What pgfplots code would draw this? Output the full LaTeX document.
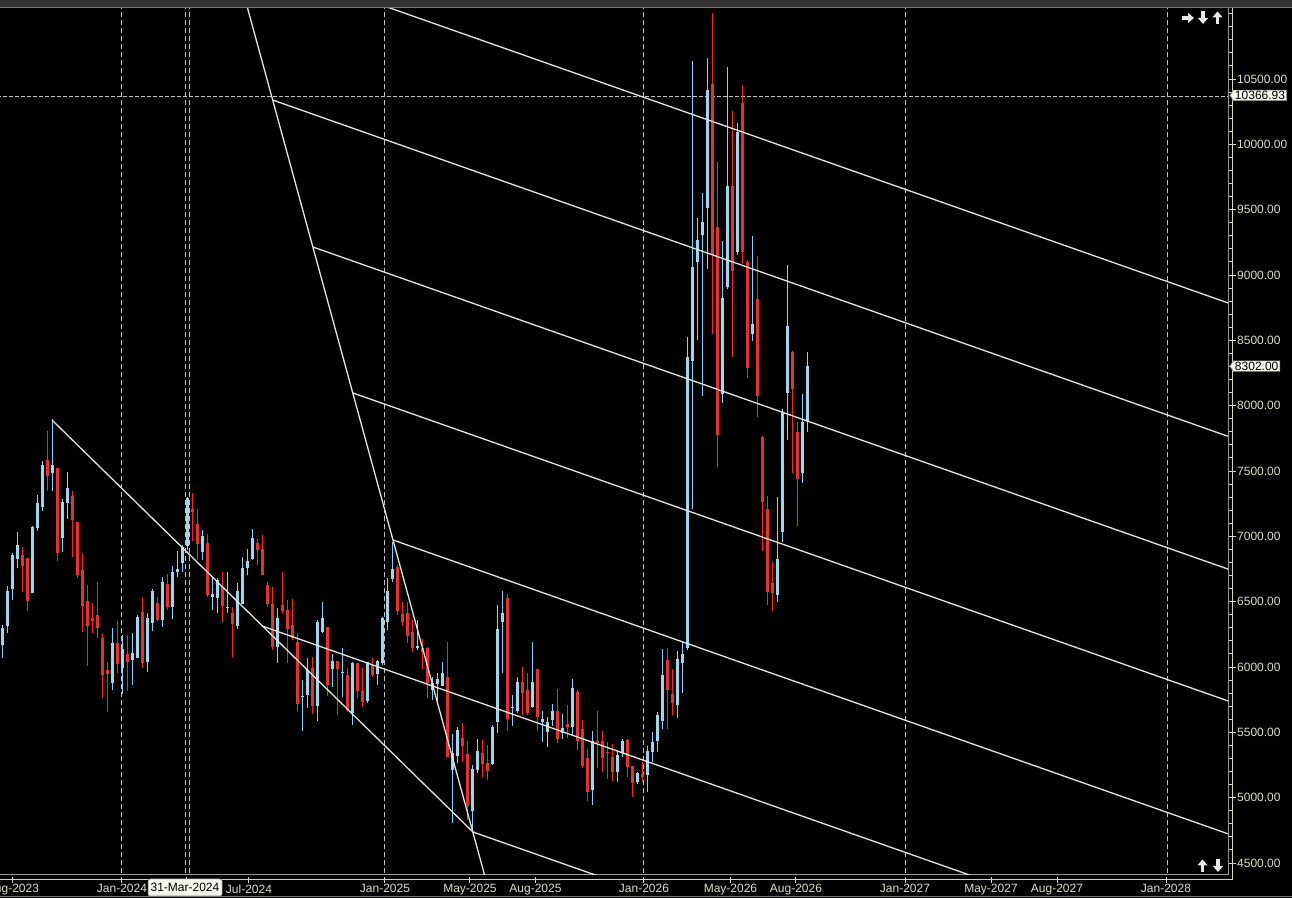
\documentclass[border=0pt]{standalone}
\usepackage{pgfplots}
\pgfplotsset{compat=1.18}
\usepackage{pgfplotstable}
\usepackage{fontspec}
\setmainfont{Liberation Sans}
\usetikzlibrary{shapes.symbols,arrows.meta}

\definecolor{upwick}{RGB}{135,206,250}
\definecolor{upbody}{RGB}{158,214,236}
\definecolor{dnwick}{RGB}{255,36,36}
\definecolor{dnbody}{RGB}{232,48,48}
\definecolor{linecol}{RGB}{228,228,218}
\definecolor{gridcol}{RGB}{195,195,195}
\definecolor{labelcol}{RGB}{222,222,196}
\definecolor{axiscol}{RGB}{215,215,185}
\definecolor{innercol}{RGB}{150,150,150}
\definecolor{topgray}{RGB}{50,50,50}
\definecolor{topline}{RGB}{120,120,120}
\definecolor{boxfill}{RGB}{244,244,236}
\definecolor{arrowcol}{RGB}{232,232,232}

% up (blue) candles: index, open, high, low, close
\pgfplotstableread{
x o h l c
0 6168 6321 6066 6296
1 6314 6620 6263 6582
2 6597 6870 6513 6857
3 6827 7031 6755 6934
6 6569 7079 6564 7069
7 7064 7316 7043 7253
8 7227 7577 7194 7546
10 7487 7895 7350 7546
12 6990 7286 6883 7265
13 7258 7490 7130 7367
22 5880 6296 5824 6184
24 5995 6245 5791 6138
26 6054 6258 5862 6107
27 6071 6398 6066 6385
29 6041 6411 5959 6378
30 6339 6597 6278 6584
32 6360 6686 6309 6651
34 6462 6773 6367 6727
35 6730 6888 6691 6750
36 6799 6934 6730 6921
37 6926 7304 6895 7291
40 6883 7049 6819 7003
42 6538 6684 6436 6559
43 6531 6684 6416 6666
45 6449 6730 6411 6457
47 6314 6645 6288 6582
48 6482 6839 6482 6760
49 6755 6903 6704 6811
50 6824 7056 6819 6985
55 6150 6449 6028 6372
60 5770 5901 5513 5781
61 5786 6066 5684 5977
63 5704 6360 5589 6347
64 6270 6500 6258 6372
66 5987 6100 5850 6046
68 5952 6143 5773 5962
70 5651 6041 5556 6028
73 5742 6041 5722 6041
75 5944 6054 5862 6046
76 6028 6385 6015 6372
77 6347 6679 6283 6582
78 6673 6959 6653 6750
83 6143 6360 6130 6161
86 5824 5921 5747 5875
87 5870 5951 5735 5906
88 5857 6036 5855 5951
90 5212 5487 4804 5339
91 5321 5543 5263 5518
94 4900 5250 4727 5219
95 5212 5446 5186 5357
98 5255 5556 5250 5538
99 5582 6474 5497 6291
100 6347 6584 5957 6411
102 5689 5786 5551 5696
103 5663 5921 5650 5883
106 5696 6189 5684 5888
108 5582 5663 5429 5600
109 5500 5620 5390 5582
110 5594 5717 5549 5663
112 5492 5638 5446 5531
114 5543 5906 5472 5837
118 5059 5513 4944 5434
123 5194 5365 5117 5327
124 5339 5449 5314 5436
127 5122 5194 5102 5186
129 5173 5398 5041 5357
130 5352 5500 5276 5423
131 5436 5653 5352 5633
132 5589 6138 5525 5939
135 5709 6125 5612 6061
136 6033 6189 5804 6097
137 6148 8528 6130 8375
138 8344 10638 7209 9064
139 9102 9434 8502 9268
140 9306 9630 8077 9408
141 9515 10658 9043 10416
144 8087 9260 8023 8827
145 8906 10594 8890 9684
147 9179 10166 9150 10092
150 8546 9299 8497 8625
155 6551 7301 6500 6827
156 7036 7975 6959 7954
157 8099 9077 7737 8610
160 7482 8089 7411 7872
161 7878 8408 7801 8302
}\up

% down (red) candles: index, open, high, low, close
\pgfplotstableread{
x o h l c
4 6857 6921 6577 6776
5 6834 6834 6431 6505
9 7584 7806 7350 7462
11 7520 7520 6814 6875
14 7309 7347 6844 7125
15 7110 7110 6684 6704
16 6742 6865 6270 6469
17 6505 6628 6010 6316
18 6372 6487 6258 6355
19 6398 6648 6225 6301
20 6222 6258 5765 5939
21 5977 6041 5658 5946
23 6184 6352 5957 6020
25 6100 6242 5816 6041
28 6423 6536 5990 6033
31 6490 6538 6350 6360
33 6638 6712 6436 6462
38 7209 7329 6964 7186
39 7094 7209 6819 6941
41 6946 7015 6538 6551
44 6615 6730 6347 6469
46 6416 6462 6079 6327
51 6952 6977 6781 6895
52 6903 7010 6707 6707
53 6628 6653 6457 6480
54 6480 6615 6130 6156
56 6475 6730 6411 6431
57 6436 6513 6028 6291
58 6321 6518 6207 6219
59 6194 6258 5666 5714
62 5995 6079 5638 5704
65 6309 6309 5778 5862
67 6046 6046 5633 5987
69 5939 5990 5658 5671
71 6028 6028 5760 5819
72 5816 5990 5696 5730
74 6015 6066 5921 5939
79 6768 6781 6398 6429
80 6403 6500 6314 6347
81 6411 6500 6186 6240
82 6265 6360 6117 6148
84 6148 6212 5982 6117
85 6148 6156 5760 5875
89 5921 6189 5314 5314
92 5454 5569 5276 5398
93 5334 5434 4829 4939
96 5339 5441 5156 5258
97 5263 5403 5135 5207
101 6531 6559 5510 5602
104 5883 6003 5633 5798
105 5824 5951 5633 5645
107 5982 5982 5513 5615
111 5663 5829 5421 5449
113 5564 5709 5454 5538
115 5811 5824 5365 5436
116 5525 5594 5224 5245
117 5306 5370 4974 5046
119 5434 5663 5224 5421
120 5434 5513 5194 5301
121 5352 5429 5143 5339
122 5309 5411 5128 5199
125 5441 5449 5161 5232
126 5245 5245 5008 5110
128 5181 5270 5122 5156
133 6054 6148 5523 5824
134 5793 5985 5633 5722
142 10462 11002 8546 9153
143 9370 9862 7533 7775
146 9684 10255 8375 9033
148 10319 10454 9089 9179
149 9102 9115 8209 8286
151 8816 9145 7916 8077
152 7763 7770 6890 7265
153 7209 7309 6475 6577
154 6640 6801 6429 6569
158 8408 8420 7487 8125
159 7796 7872 7079 7436
}\dn

\pgfplotsset{
  candle/.style 2 args={#1, only marks, mark=*, mark size=0pt, mark options={draw=none, fill=none},
    error bars/.cd, y dir=plus, y explicit, error mark=none,
    error bar style={line width=#2, solid, line cap=butt, #1}},
  gridline/.style={gridcol, line width=1bp, dash pattern=on 5bp off 3bp},
  fanline/.style={linecol, line width=1.3bp},
}

\begin{document}
\begin{tikzpicture}[font=\fontsize{12bp}{14bp}\selectfont]
\useasboundingbox (0,0) rectangle (1292bp,898bp);
\fill[black] (0,0) rectangle (1292bp,898bp);
\fill[topgray] (0,890.5bp) rectangle (1292bp,898bp);
\draw[topline, line width=1bp] (0,890bp) -- (1292bp,890bp);
\draw[topline, line width=1bp] (0,1.3bp) -- (1292bp,1.3bp);
\begin{axis}[
  at={(0bp,23.5bp)}, anchor=south west,
  scale only axis, width=1228bp, height=866bp,
  xmin=-0.467, xmax=245.13, ymin=4412, ymax=11039.5,
  axis x line*=bottom, axis y line*=right,
  axis line style={innercol, line width=1bp},
  xtick={2.13,23.93,36.93,49.33,76.53,93.53,106.63,128.33,145.63,158.73,180.53,197.73,210.93,232.73},
  xticklabels={Aug-2023,Jan-2024,,Jul-2024,Jan-2025,May-2025,Aug-2025,Jan-2026,May-2026,Aug-2026,Jan-2027,May-2027,Aug-2027,Jan-2028},
  x tick style={axiscol, line width=1bp, line cap=butt, dash pattern=on 5.5bp off 20bp},
  x tick label style={text=labelcol, yshift=1.5bp},
  ytick={4500,5000,5500,6000,6500,7000,7500,8000,8500,9000,9500,10000,10500},
  minor ytick={4500,4600,...,11000},
  major tick length=8bp, minor tick length=4.5bp,
  tick align=outside,
  y tick style={axiscol, line width=0.9bp},
  minor y tick style={axiscol, line width=0.9bp},
  scaled y ticks=false,
  y tick label style={text=labelcol, inner sep=1bp, /pgf/number format/.cd, fixed, fixed zerofill, precision=2, 1000 sep={}, assume math mode=true},
]
% grid / crosshair lines
\addplot[gridline] coordinates {(23.93,4300) (23.93,11200)};
\addplot[gridline] coordinates {(36.63,4300) (36.63,11200)};
\addplot[gridline] coordinates {(37.39,4300) (37.39,11200)};
\addplot[gridline] coordinates {(76.53,4300) (76.53,11200)};
\addplot[gridline] coordinates {(128.33,4300) (128.33,11200)};
\addplot[gridline] coordinates {(180.53,4300) (180.53,11200)};
\addplot[gridline] coordinates {(232.93,4300) (232.93,11200)};
\addplot[gridcol, line width=1bp, dash pattern=on 4bp off 2bp] coordinates {(-1,10366.93) (246,10366.93)};

% wicks
\addplot[candle={upwick}{1bp}] table[x=x, y=l, y error plus expr={\thisrow{h}-\thisrow{l}}] {\up};
\addplot[candle={dnwick}{1bp}] table[x=x, y=l, y error plus expr={\thisrow{h}-\thisrow{l}}] {\dn};
% bodies
\addplot[candle={upbody}{3bp}] table[x=x, y=o, y error plus expr={\thisrow{c}-\thisrow{o}}] {\up};
\addplot[candle={dnbody}{3bp}] table[x=x, y=c, y error plus expr={\thisrow{o}-\thisrow{c}}] {\dn};

% fan / channel lines
\addplot[fanline] coordinates {(9.93,7890) (94.13,4737)};
\addplot[fanline] coordinates {(48.05,11181) (97.27,4293)};
\addplot[fanline] coordinates {(73.53,11097) (247.53,8754)};
\addplot[fanline] coordinates {(54.07,10339) (247.53,7733)};
\addplot[fanline] coordinates {(62.13,9214) (247.53,6717)};
\addplot[fanline] coordinates {(70.13,8097) (247.53,5708)};
\addplot[fanline] coordinates {(78.13,6972) (247.53,4691)};
\addplot[fanline] coordinates {(51.93,6314) (199.53,4326)};
\addplot[fanline] coordinates {(94.13,4737) (123.53,4342)};

\coordinate (pA) at (axis cs:245.13,10366.93);
\coordinate (pB) at (axis cs:245.13,8302);
\end{axis}
% outer price / time axis frame
\draw[axiscol, line width=1bp] (0,18bp) -- (1232.5bp,18bp) -- (1232.5bp,890bp);
% last-value and cursor boxes
\node[signal, signal to=west, signal pointer angle=110, fill=boxfill, draw=gray, line width=0.5bp,
  text=black, inner xsep=1.5bp, inner ysep=1bp, anchor=west] at ([xshift=1.5bp,yshift=1bp]pA) {10366.93};
\node[signal, signal to=west, signal pointer angle=110, fill=boxfill, draw=gray, line width=0.5bp,
  text=black, inner xsep=1.5bp, inner ysep=1bp, anchor=west] at ([xshift=1.5bp]pB) {8302.00};
\node[fill=boxfill, draw=gray, line width=0.5bp, rounded corners=2bp, text=black,
  minimum width=74bp, minimum height=17bp, inner sep=0pt] at (185bp,10.5bp) {31-Mar-2024};
% scroll arrows
\begin{scope}[arrowcol, line width=3.2bp, -{Triangle[width=10bp,length=6bp]}]
\draw (1181.5bp,880bp) -- (1194bp,880bp);
\draw (1203bp,886.5bp) -- (1203bp,874bp);
\draw (1217.5bp,874bp) -- (1217.5bp,886.5bp);
\draw (1202.5bp,26bp) -- (1202.5bp,38.5bp);
\draw (1218bp,38.5bp) -- (1218bp,26bp);
\end{scope}
\end{tikzpicture}
\end{document}
